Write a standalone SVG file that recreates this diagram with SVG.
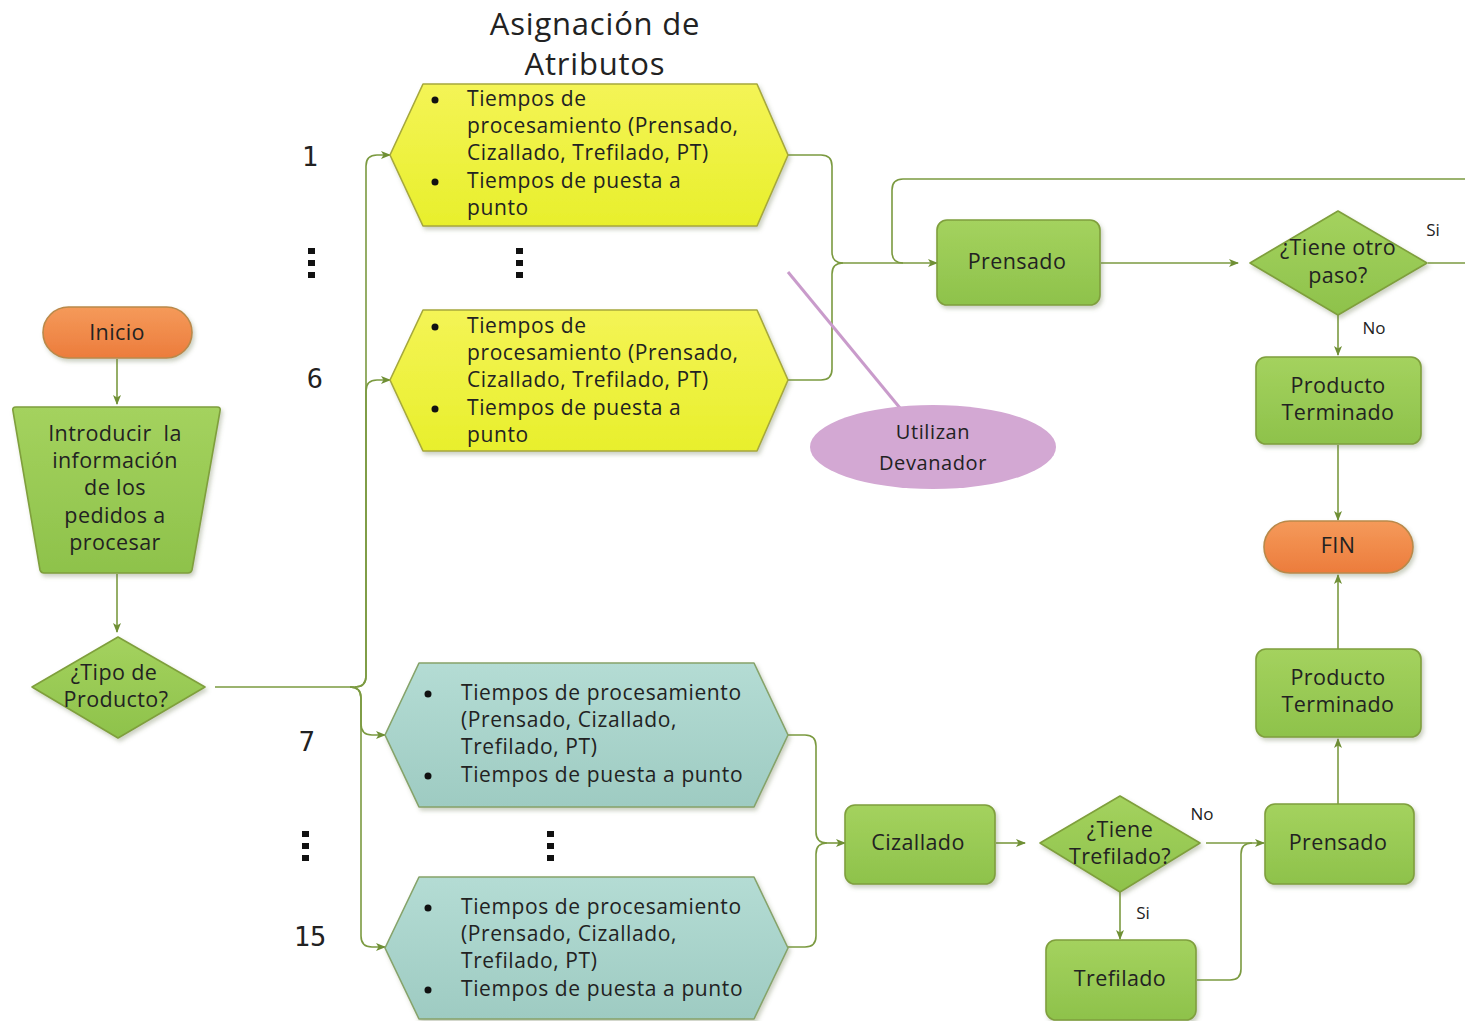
<svg xmlns="http://www.w3.org/2000/svg" width="1465" height="1021" viewBox="0 0 1465 1021">
  <style>
    .t { font-family: "Open Sans", "Noto Sans", "Liberation Sans", sans-serif; fill: #222; }
    .box { stroke: #7f9f3c; stroke-width: 1.6; filter: url(#shadow); }
    .green { fill: url(#gGreen); }
    .orange { fill: url(#gOrange); stroke: #b9894a; }
    .yellow { fill: url(#gYellow); stroke: #a6a83c; }
    .teal { fill: url(#gTeal); stroke: #86a36a; }
    .conn { fill: none; stroke: #7b9a40; stroke-width: 1.6; }
    .arrow { marker-end: url(#ah); }
    .lbl { font-size: 21.5px; letter-spacing: 0.4px; text-anchor: middle; }
    .item { font-size: 21px; letter-spacing: 0.6px; }
    .small { font-size: 17px; }
    .num { font-family: "DejaVu Sans Mono", "Liberation Mono", monospace; font-size: 27px; fill: #222; text-anchor: middle; }
  </style>
  <defs>
    <linearGradient id="gGreen" x1="0" y1="0" x2="0" y2="1">
      <stop offset="0" stop-color="#a4d25e"/>
      <stop offset="1" stop-color="#8ec24b"/>
    </linearGradient>
    <linearGradient id="gOrange" x1="0" y1="0" x2="0" y2="1">
      <stop offset="0" stop-color="#f59a5a"/>
      <stop offset="1" stop-color="#ec7c3c"/>
    </linearGradient>
    <linearGradient id="gYellow" x1="0" y1="0" x2="0" y2="1">
      <stop offset="0" stop-color="#f4f456"/>
      <stop offset="1" stop-color="#e8ef2c"/>
    </linearGradient>
    <linearGradient id="gTeal" x1="0" y1="0" x2="0" y2="1">
      <stop offset="0" stop-color="#b4dcd4"/>
      <stop offset="1" stop-color="#9ecbc2"/>
    </linearGradient>
    <filter id="shadow" x="-10%" y="-10%" width="125%" height="130%">
      <feDropShadow dx="2" dy="3" stdDeviation="2" flood-color="#6a7a50" flood-opacity="0.35"/>
    </filter>
    <marker id="ah" viewBox="0 0 10 10" refX="9" refY="5" markerWidth="10" markerHeight="10" markerUnits="userSpaceOnUse" orient="auto">
      <path d="M0,1 L10,5 L0,9 L2.5,5 Z" fill="#6f8f35"/>
    </marker>
  </defs>

  <!-- section heading -->
  <text class="t" x="595" y="35" font-size="31" letter-spacing="0.8" text-anchor="middle">Asignación de</text>
  <text class="t" x="595" y="75" font-size="31" letter-spacing="0.8" text-anchor="middle">Atributos</text>

  <!-- product numbers and ellipsis marks -->
  <g id="numbering">
    <text class="num" x="310" y="166">1</text>
    <text class="num" x="315" y="388">6</text>
    <text class="num" x="307" y="751">7</text>
    <text class="num" x="310" y="946">15</text>
    <g fill="#111">
      <rect x="308" y="248" width="7" height="6"/><rect x="308" y="260" width="7" height="6"/><rect x="308" y="272" width="7" height="6"/>
      <rect x="516" y="248" width="7" height="6"/><rect x="516" y="260" width="7" height="6"/><rect x="516" y="272" width="7" height="6"/>
      <rect x="302" y="831" width="7" height="6"/><rect x="302" y="843" width="7" height="6"/><rect x="302" y="855" width="7" height="6"/>
      <rect x="547" y="831" width="7" height="6"/><rect x="547" y="843" width="7" height="6"/><rect x="547" y="855" width="7" height="6"/>
    </g>
  </g>

  <!-- connectors -->
  <g id="connectors">
    <path class="conn arrow" d="M117,359 V404"/>
    <path class="conn arrow" d="M117,574 V632"/>
    <!-- fan-out from product type decision -->
    <path class="conn arrow" d="M215,687 H355 Q366,687 366,676 V166 Q366,155 377,155 H390"/>
    <path class="conn arrow" d="M355,687 Q366,687 366,676 V391 Q366,380 377,380 H390"/>
    <path class="conn arrow" d="M350,687 Q361,687 361,698 V724 Q361,735 372,735 H385"/>
    <path class="conn arrow" d="M350,687 Q361,687 361,698 V936 Q361,947 372,947 H385"/>
    <!-- yellow group into Prensado -->
    <path class="conn" d="M788,155 H821 Q832,155 832,166 V252 Q832,263 843,263"/>
    <path class="conn" d="M788,380 H821 Q832,380 832,369 V274 Q832,263 843,263"/>
    <path class="conn arrow" d="M843,263 H937"/>
    <!-- loop back from next-step decision -->
    <path class="conn" d="M1465,179 H903 Q892,179 892,190 V252 Q892,263 903,263"/>
    <path class="conn" d="M1428,263 H1465"/>
    <path class="conn arrow" d="M1101,263 H1238"/>
    <path class="conn arrow" d="M1338,315 V355"/>
    <path class="conn arrow" d="M1338,445 V520"/>
    <path class="conn arrow" d="M1338,649 V575"/>
    <path class="conn arrow" d="M1338,804 V739"/>
    <!-- teal group into Cizallado -->
    <path class="conn" d="M788,735 H805 Q816,735 816,746 V832 Q816,843 827,843"/>
    <path class="conn" d="M788,947 H805 Q816,947 816,936 V854 Q816,843 827,843"/>
    <path class="conn arrow" d="M827,843 H845"/>
    <path class="conn arrow" d="M996,843 H1025"/>
    <path class="conn arrow" d="M1206,843 H1264"/>
    <path class="conn arrow" d="M1120,892 V939"/>
    <path class="conn" d="M1197,980 H1230 Q1241,980 1241,969 V854 Q1241,843 1252,843"/>
    <!-- note pointer -->
    <path d="M788,272 L900,408" fill="none" stroke="#c99bcb" stroke-width="3"/>
  </g>

  <!-- edge labels -->
  <text class="t small" x="1433" y="236" text-anchor="middle">Si</text>
  <text class="t small" x="1374" y="334" text-anchor="middle">No</text>
  <text class="t small" x="1202" y="820" text-anchor="middle">No</text>
  <text class="t small" x="1143" y="919" text-anchor="middle">Si</text>

  <g id="inicio">
    <rect class="box orange" x="43" y="307" width="149" height="51" rx="25.5"/>
    <text class="t lbl" x="117" y="340" font-size="23">Inicio</text>
  </g>

  <g id="introducir">
    <path class="box green" d="M16,407 H217 Q221,407 220,411 L192,570 Q191,573 188,573 H44 Q41,573 40,570 L13,411 Q12,407 16,407 Z"/>
    <text class="t lbl" x="115" y="441" xml:space="preserve">Introducir  la</text>
    <text class="t lbl" x="115" y="468">información</text>
    <text class="t lbl" x="115" y="495">de los</text>
    <text class="t lbl" x="115" y="523">pedidos a</text>
    <text class="t lbl" x="115" y="550">procesar</text>
  </g>

  <g id="tipo-producto">
    <path class="box green" d="M118,637 L205,687 L118,738 L32,687 Z" stroke-linejoin="round"/>
    <text class="t lbl" x="114" y="680">¿Tipo de</text>
    <text class="t lbl" x="116" y="707">Producto?</text>
  </g>

  <g id="atributos-1">
    <path class="box yellow" d="M390,155 L423,84 H757 L788,155 L757,226 H423 Z" stroke-linejoin="round"/>
    <circle cx="435" cy="100" r="3.5" fill="#111"/>
    <circle cx="435" cy="182" r="3.5" fill="#111"/>
    <text class="t item" x="467" y="106">Tiempos de</text>
    <text class="t item" x="467" y="133">procesamiento (Prensado,</text>
    <text class="t item" x="467" y="160">Cizallado, Trefilado, PT)</text>
    <text class="t item" x="467" y="188">Tiempos de puesta a</text>
    <text class="t item" x="467" y="215">punto</text>
  </g>

  <g id="atributos-6">
    <path class="box yellow" d="M390,380 L423,310 H757 L788,380 L757,451 H423 Z" stroke-linejoin="round"/>
    <circle cx="435" cy="327" r="3.5" fill="#111"/>
    <circle cx="435" cy="409" r="3.5" fill="#111"/>
    <text class="t item" x="467" y="333">Tiempos de</text>
    <text class="t item" x="467" y="360">procesamiento (Prensado,</text>
    <text class="t item" x="467" y="387">Cizallado, Trefilado, PT)</text>
    <text class="t item" x="467" y="415">Tiempos de puesta a</text>
    <text class="t item" x="467" y="442">punto</text>
  </g>

  <g id="atributos-7">
    <path class="box teal" d="M385,735 L419,663 H754 L788,735 L754,807 H419 Z" stroke-linejoin="round"/>
    <circle cx="428" cy="694" r="3.5" fill="#111"/>
    <circle cx="428" cy="776" r="3.5" fill="#111"/>
    <text class="t item" x="461" y="700">Tiempos de procesamiento</text>
    <text class="t item" x="461" y="727">(Prensado, Cizallado,</text>
    <text class="t item" x="461" y="754">Trefilado, PT)</text>
    <text class="t item" x="461" y="782">Tiempos de puesta a punto</text>
  </g>

  <g id="atributos-15">
    <path class="box teal" d="M385,948 L419,877 H754 L788,948 L754,1019 H419 Z" stroke-linejoin="round"/>
    <circle cx="428" cy="908" r="3.5" fill="#111"/>
    <circle cx="428" cy="990" r="3.5" fill="#111"/>
    <text class="t item" x="461" y="914">Tiempos de procesamiento</text>
    <text class="t item" x="461" y="941">(Prensado, Cizallado,</text>
    <text class="t item" x="461" y="968">Trefilado, PT)</text>
    <text class="t item" x="461" y="996">Tiempos de puesta a punto</text>
  </g>

  <g id="devanador">
    <ellipse cx="933" cy="447" rx="123" ry="42" fill="#d3a8d3"/>
    <text class="t" x="933" y="439" font-size="20" letter-spacing="0.6" text-anchor="middle">Utilizan</text>
    <text class="t" x="933" y="470" font-size="20" letter-spacing="0.6" text-anchor="middle">Devanador</text>
  </g>

  <g id="prensado-1">
    <rect class="box green" x="937" y="220" width="163" height="85" rx="10"/>
    <text class="t lbl" x="1017" y="269">Prensado</text>
  </g>

  <g id="otro-paso">
    <path class="box green" d="M1338,211 L1427,263 L1338,315 L1250,263 Z" stroke-linejoin="round"/>
    <text class="t lbl" x="1338" y="255">¿Tiene otro</text>
    <text class="t lbl" x="1338" y="283">paso?</text>
  </g>

  <g id="producto-terminado-1">
    <rect class="box green" x="1256" y="357" width="165" height="87" rx="10"/>
    <text class="t lbl" x="1338" y="393">Producto</text>
    <text class="t lbl" x="1338" y="420">Terminado</text>
  </g>

  <g id="fin">
    <rect class="box orange" x="1264" y="521" width="149" height="52" rx="26"/>
    <text class="t lbl" x="1338" y="553" font-size="20">FIN</text>
  </g>

  <g id="producto-terminado-2">
    <rect class="box green" x="1256" y="649" width="165" height="88" rx="10"/>
    <text class="t lbl" x="1338" y="685">Producto</text>
    <text class="t lbl" x="1338" y="712">Terminado</text>
  </g>

  <g id="prensado-2">
    <rect class="box green" x="1265" y="804" width="149" height="80" rx="10"/>
    <text class="t lbl" x="1338" y="850">Prensado</text>
  </g>

  <g id="cizallado">
    <rect class="box green" x="845" y="805" width="150" height="79" rx="10"/>
    <text class="t lbl" x="918" y="850">Cizallado</text>
  </g>

  <g id="tiene-trefilado">
    <path class="box green" d="M1120,796 L1200,843 L1120,892 L1040,843 Z" stroke-linejoin="round"/>
    <text class="t lbl" x="1120" y="837">¿Tiene</text>
    <text class="t lbl" x="1120" y="864">Trefilado?</text>
  </g>

  <g id="trefilado">
    <rect class="box green" x="1046" y="940" width="150" height="80" rx="10"/>
    <text class="t lbl" x="1120" y="986">Trefilado</text>
  </g>
</svg>
